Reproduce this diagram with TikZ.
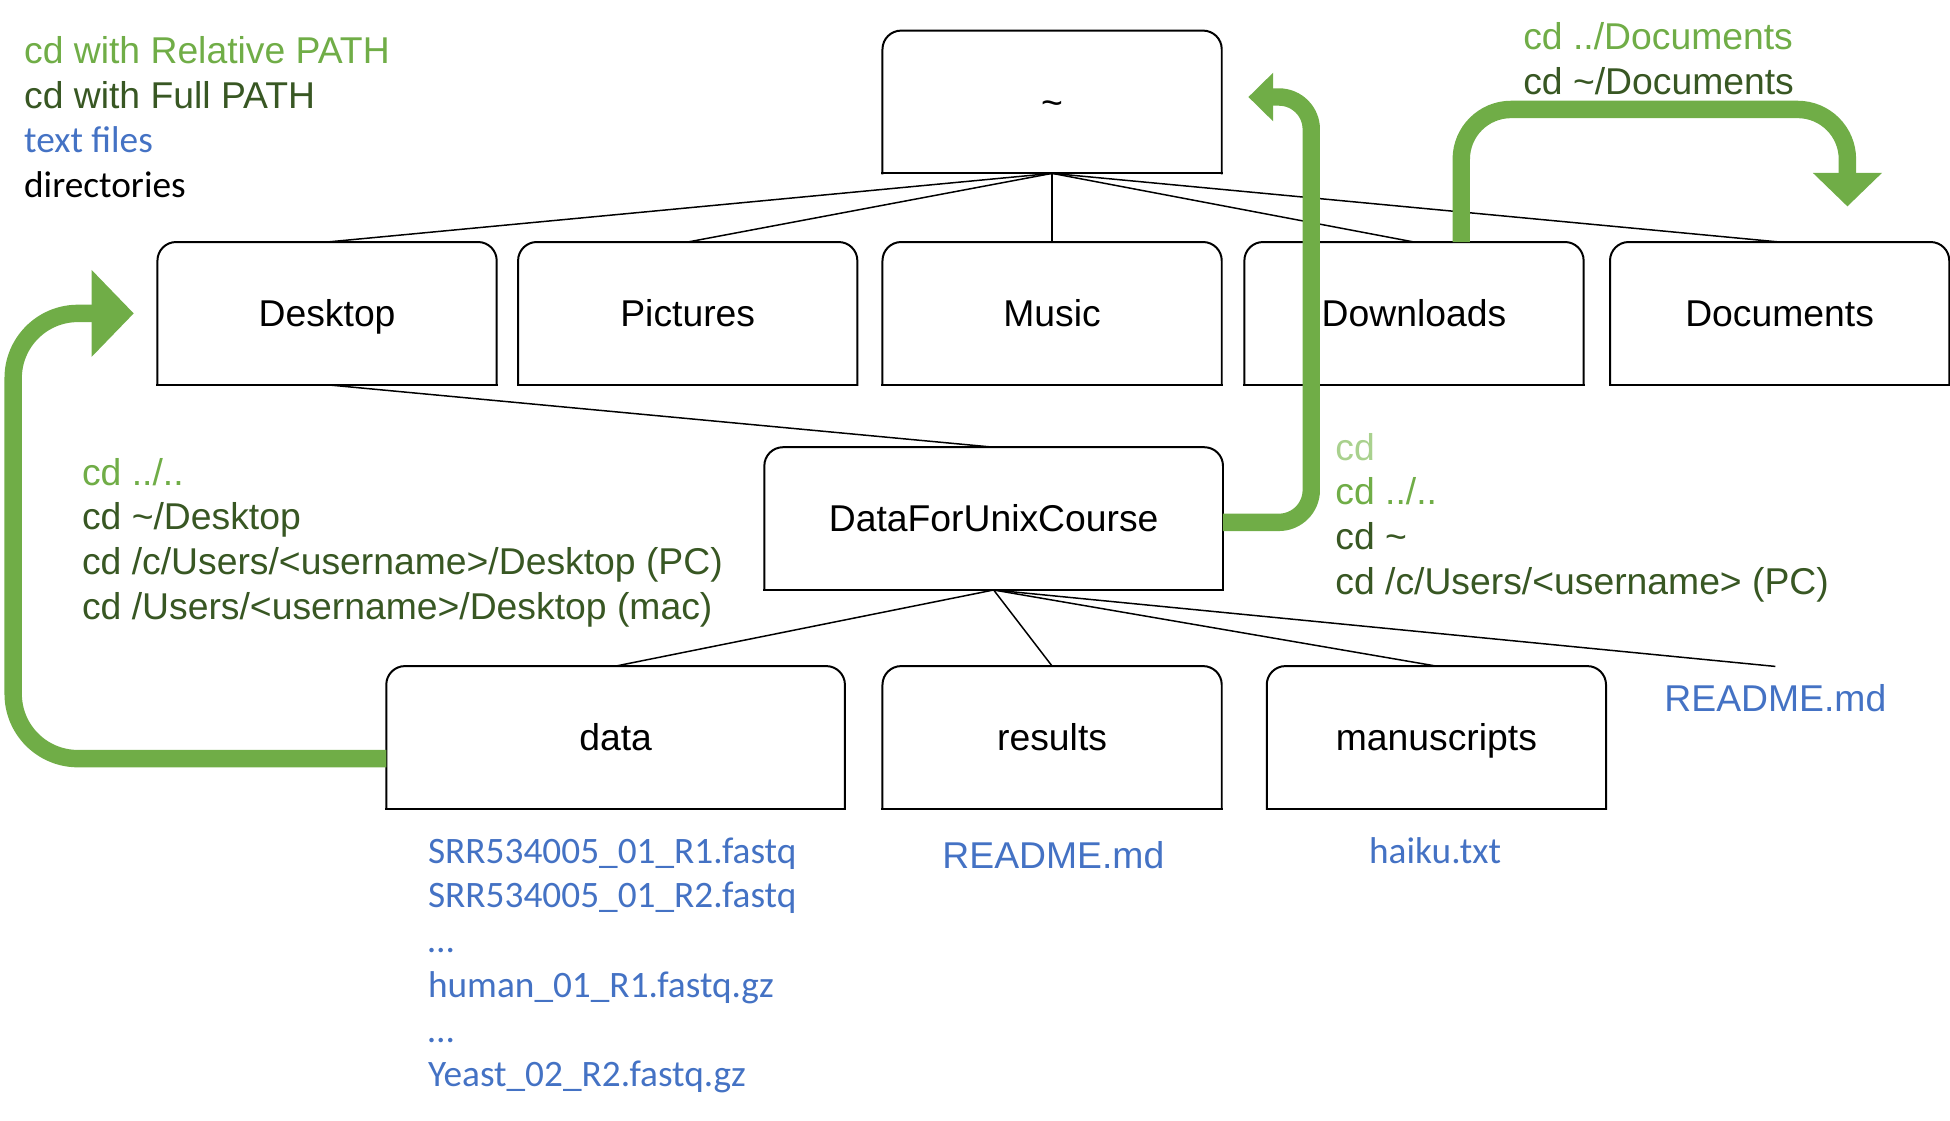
\documentclass[tikz,border=0pt]{standalone}
\usepackage{fontspec}
\setmainfont{Liberation Sans}
\newfontfamily\calfont{Carlito}
\usepackage{tikz}
\usetikzlibrary{positioning, arrows.meta}
\definecolor{relgreen}{HTML}{70AD47}
\definecolor{fullgreen}{HTML}{385723}
\definecolor{palegreen}{HTML}{A9D18E}
\definecolor{fileblue}{HTML}{4472C4}
\tikzset{
  dir/.style={minimum width=136pt, minimum height=57pt, inner sep=0pt, text height=10.7pt, text depth=0pt, font=\fontsize{15}{18}\selectfont},
  frame/.style={line width=0.8pt, line cap=rect},
  tree/.style={line width=0.6pt},
  note/.style={anchor=base west, inner sep=0pt, font=\fontsize{15}{18}\selectfont},
  cd/.style={draw=relgreen, line width=7pt}
}
\newcommand{\dirframe}[1]{%
  \draw[frame, rounded corners=7.5pt] (#1.south west) -- (#1.north west) -- (#1.north east) -- (#1.south east);
  \draw[frame] (#1.south west) -- (#1.south east);}
\begin{document}
\begin{tikzpicture}[x=0.5pt, y=-0.5pt]
\useasboundingbox (0,0) rectangle (1568,901);

\node[dir] (home) at (846,82) {\textasciitilde};
\foreach \nm/\lbl/\x in {desk/Desktop/263, pics/Pictures/553, music/Music/846, down/Downloads/1137, docs/Documents/1431}
  \node[dir] (\nm) at (\x,252) {\lbl};
\node[dir, minimum width=184pt] (unix) at (799,417) {DataForUnixCourse};
\foreach \nm/\lbl/\x/\bw in {data/data/495/184pt, res/results/846/136pt, manu/manuscripts/1155/136pt}
  \node[dir, minimum width=\bw] (\nm) at (\x,593) {\lbl};
\foreach \nm in {home,desk,pics,music,down,docs,unix,data,res,manu}
  {\dirframe{\nm}}

\foreach \txt/\col/\fnt [count=\n] in {{cd with Relative PATH}/relgreen/\rmfamily, {cd with Full PATH}/fullgreen/\rmfamily, {text files}/fileblue/\calfont, {directories}/black/\calfont}
  \node[note, text=\col] (key\n) at (19,15+36*\n) {\fnt\txt};
\foreach \txt/\col [count=\n] in {{cd ../..}/relgreen, {cd \textasciitilde/Desktop}/fullgreen, {cd /c/Users/<username>/Desktop (PC)}/fullgreen, {cd /Users/<username>/Desktop (mac)}/fullgreen}
  \node[note, text=\col] (todesk\n) at (65.6,354+36*\n) {\txt};
\foreach \txt/\col [count=\n] in {{cd}/palegreen, {cd ../..}/relgreen, {cd \textasciitilde}/fullgreen, {cd /c/Users/<username> (PC)}/fullgreen}
  \node[note, text=\col] (tohome\n) at (1073.4,334+36*\n) {\txt};
\foreach \txt/\col [count=\n] in {{cd ../Documents}/relgreen, {cd \textasciitilde/Documents}/fullgreen}
  \node[note, text=\col] (todocs\n) at (1224.5,4+36*\n) {\txt};
\foreach \txt [count=\n] in {SRR534005\_01\_R1.fastq, SRR534005\_01\_R2.fastq, …, human\_01\_R1.fastq.gz, …, Yeast\_02\_R2.fastq.gz}
  \node[note, text=fileblue] (fq\n) at (343.8,658+36*\n) {\calfont\txt};
\node[note, anchor=base, text=fileblue] (rmres) at (847,698) {README.md};
\node[note, anchor=base, text=fileblue] (haiku) at (1154,694) {\calfont haiku.txt};
\node[note, text=fileblue] (rmtop) at (1338,572) {README.md};

\foreach \nm in {desk,pics,music,down,docs}
  \draw[tree] (home.south) -- (\nm.north);
\draw[tree] (desk.south) -- (unix.north);
\foreach \nm in {data,res,manu}
  \draw[tree] (unix.south) -- (\nm.north);
\draw[tree] (unix.south) -- ([yshift=7pt]rmtop.north);

\draw[cd, rounded corners=26pt, -{Triangle[length=17pt,width=34pt]}] ([yshift=-8.5pt]data.west) -- ++(-300,0) |- ([xshift=-9.5pt]desk.west);
\draw[cd, rounded corners=13pt, -{Triangle[length=10pt,width=19pt]}] ([yshift=-1.5pt]unix.east) -- ++(71,0) |- ([xshift=10.7pt,yshift=2pt]home.east);
\draw[cd, rounded corners=20pt, -{Triangle[length=13.5pt,width=27pt]}] ([xshift=19pt]down.north) -- ++(0,-106.6) -| ([xshift=27.25pt,yshift=14.3pt]docs.north);
\end{tikzpicture}
\end{document}
